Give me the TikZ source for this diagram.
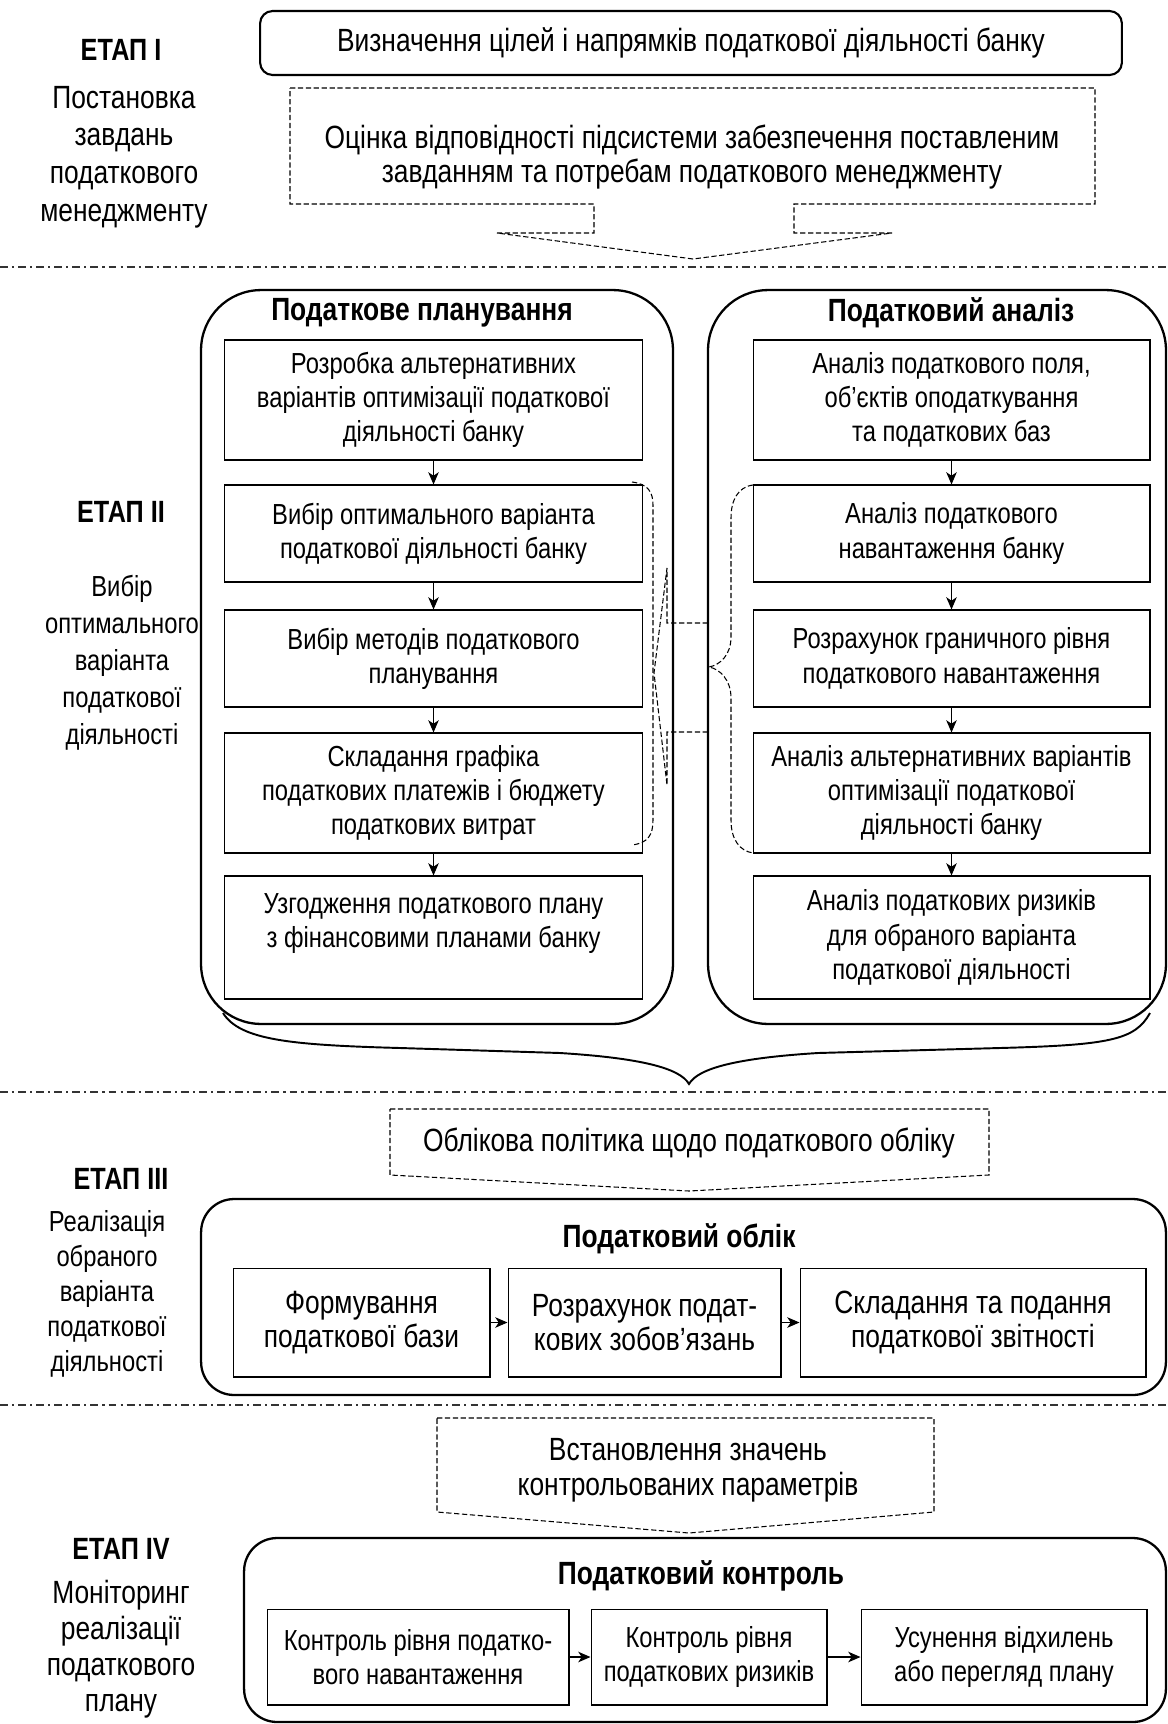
\documentclass[tikz,border=0pt]{standalone}
\usepackage{fontspec}
\setmainfont{Liberation Sans}[FakeStretch=0.82]
\usetikzlibrary{arrows.meta}

\begin{document}
\begin{tikzpicture}[x=0.02cm, y=-0.02cm,
        txt/.style={font=\fontsize{16.5}{19.5}\selectfont},
        bigtxt/.style={font=\fontsize{18.3}{19.8}\selectfont},
        stepbox/.style={txt, draw, line width=0.6pt, align=center, inner sep=2pt},
        bigstepbox/.style={bigtxt, draw, line width=0.6pt, align=center, inner sep=2pt},
        panel/.style={draw, line width=1.3pt, rounded corners=1.2cm},
        smallpanel/.style={draw, line width=1.3pt, rounded corners=0.66cm},
        etap/.style={font=\bfseries\fontsize{17.5}{20}\selectfont},
        desc/.style={align=center, font=\fontsize{16.5}{21}\selectfont},
        bigdesc/.style={align=center, font=\fontsize{18.3}{21.5}\selectfont},
        heading/.style={font=\bfseries\fontsize{18.3}{20}\selectfont},
        hint/.style={line width=0.6pt, dash pattern=on 3pt off 1.5pt},
        sep/.style={line width=0.6pt, black!80, dash pattern=on 4.5pt off 2.3pt on 1.2pt off 2.3pt},
        flow/.style={-{Stealth[length=7pt,width=6pt,inset=2pt]}, line width=0.6pt}]
        \useasboundingbox (0,0) rectangle (1167,1724);

        % etap I
        \node[etap] (e1) at (121,50) {ЕТАП I};
        \node[bigdesc] (d1) at (124,157) {Постановка\\завдань\\податкового\\менеджменту};
        \node[bigtxt, draw, line width=1.2pt, rounded corners=0.25cm, minimum width=17.24cm, minimum height=1.28cm] (goal) at (691,43) {Визначення цілей і напрямків податкової діяльності банку};
        \node[bigtxt, align=center] (assess) at (692,157) {Оцінка відповідності підсистеми забезпечення поставленим\\завданням та потребам податкового менеджменту};
        \draw[hint] (290,88) -- (1095,88) -- (1095,204) -- (794,204) -- (794,233) -- (892,233) -- (693,259)
                -- (497,233) -- (594,233) -- (594,204) -- (290,204) -- cycle;

        \draw[sep] (0,267) -- (1167,267);

        % etap II
        \node[etap] (e2) at (121,512) {ЕТАП II};
        \node[desc] (d2) at (122,663) {Вибір\\оптимального\\варіанта\\податкової\\діяльності};

        \node[panel, minimum width=9.44cm, minimum height=14.68cm] (plan) at (437,657) {};
        \node[panel, minimum width=9.16cm, minimum height=14.68cm] (anal) at (937,657) {};
        \node[heading] at (422,313) {Податкове планування};
        \node[heading] at (951,313) {Податковий аналіз};

        \node[stepbox, minimum width=8.38cm, minimum height=2.4cm] (p1) at (433.5,400) {Розробка альтернативних\\варіантів оптимізації податкової\\діяльності банку};
        \node[stepbox, minimum width=8.38cm, minimum height=1.94cm] (p2) at (433.5,533.5) {Вибір оптимального варіанта\\податкової діяльності банку};
        \node[stepbox, minimum width=8.38cm, minimum height=1.94cm] (p3) at (433.5,658.5) {Вибір методів податкового\\планування};
        \node[stepbox, minimum width=8.38cm, minimum height=2.4cm] (p4) at (433.5,793) {Складання графіка\\податкових платежів і бюджету\\податкових витрат};
        \node[stepbox, minimum width=8.38cm, minimum height=2.46cm] (p5) at (433.5,937.5) {Узгодження податкового плану\\з фінансовими планами банку\\ \mbox{}};

        \node[stepbox, minimum width=7.94cm, minimum height=2.4cm] (a1) at (951.5,400) {Аналіз податкового поля,\\об’єктів оподаткування\\та податкових баз};
        \node[stepbox, minimum width=7.94cm, minimum height=1.94cm] (a2) at (951.5,533.5) {Аналіз податкового\\навантаження банку};
        \node[stepbox, minimum width=7.94cm, minimum height=1.94cm] (a3) at (951.5,658.5) {Розрахунок граничного рівня\\податкового навантаження};
        \node[stepbox, minimum width=7.94cm, minimum height=2.4cm] (a4) at (951.5,793) {Аналіз альтернативних варіантів\\оптимізації податкової\\діяльності банку};
        \node[stepbox, minimum width=7.94cm, minimum height=2.46cm] (a5) at (951.5,937.5) {Аналіз податкових ризиків\\для обраного варіанта\\податкової діяльності};

        \draw[flow] (p1) -- (p2);
        \draw[flow] (p2) -- (p3);
        \draw[flow] (p3) -- (p4);
        \draw[flow] (p4) -- (p5);
        \draw[flow] (a1) -- (a2);
        \draw[flow] (a2) -- (a3);
        \draw[flow] (a3) -- (a4);
        \draw[flow] (a4) -- (a5);

        % braces between the two panels
        \draw[hint] (632,482) .. controls (648,484) and (653,492) .. (653,505) -- (653,820)
                .. controls (653,835) and (648,843) .. (632,845);
        \draw[hint] (753,485) .. controls (738,487) and (731,500) .. (731,518) -- (731,637)
                .. controls (731,655) and (720,665) .. (709,667) .. controls (720,669) and (731,680) .. (731,698)
                -- (731,820) .. controls (731,840) and (740,851) .. (753,853);
        \draw[hint] (708,623) -- (667,623) -- (667,568) -- (654,673) -- (667,785) -- (667,732) -- (708,732);

        % big brace
        \draw[line width=1.1pt] (223,1013) .. controls (240,1040) and (290,1045) .. (400,1048) -- (560,1053)
                .. controls (640,1058) and (680,1068) .. (689,1084) .. controls (698,1068) and (738,1058) .. (818,1053)
                -- (1000,1048) .. controls (1110,1045) and (1135,1040) .. (1150,1013);

        \draw[sep] (0,1092) -- (1167,1092);

        % etap III
        \node[etap] (e3) at (121,1179) {ЕТАП III};
        \node[desc, font=\fontsize{16.5}{20}\selectfont] (d3) at (107,1294) {Реалізація\\обраного\\варіанта\\податкової\\діяльності};
        \node[bigtxt] (policy) at (689,1143) {Облікова політика щодо податкового обліку};
        \draw[hint] (390,1109) -- (989,1109) -- (989,1175) -- (689,1191) -- (390,1175) -- cycle;

        \node[smallpanel, minimum width=19.3cm, minimum height=3.92cm] (acc) at (683.5,1297) {};
        \node[heading] at (679,1239) {Податковий облік};
        \node[bigstepbox, minimum width=5.14cm, minimum height=2.18cm] (f1) at (361.5,1322.5) {Формування\\податкової бази};
        \node[bigstepbox, minimum width=5.46cm, minimum height=2.18cm] (f2) at (644.5,1322.5) {Розрахунок подат-\\кових зобов’язань};
        \node[bigstepbox, minimum width=6.92cm, minimum height=2.18cm] (f3) at (973,1322.5) {Складання та подання\\податкової звітності};
        \draw[flow] (f1) -- (f2);
        \draw[flow] (f2) -- (f3);

        \draw[sep] (0,1405) -- (1167,1405);

        % etap IV
        \node[etap] (e4) at (121,1549) {ЕТАП IV};
        \node[bigdesc, font=\fontsize{18.3}{20.4}\selectfont] (d4) at (121,1649) {Моніторинг\\реалізації\\податкового\\плану};
        \node[bigtxt, align=center] (params) at (688,1470) {Встановлення значень\\контрольованих параметрів};
        \draw[hint] (437,1418) -- (934,1418) -- (934,1512) -- (689,1533) -- (437,1512) -- cycle;

        \node[smallpanel, minimum width=18.44cm, minimum height=3.68cm] (ctrl) at (705,1630) {};
        \node[heading] at (701,1576) {Податковий контроль};
        \node[stepbox, minimum width=6.04cm, minimum height=1.92cm] (k1) at (418,1657) {Контроль рівня податко-\\вого навантаження};
        \node[stepbox, minimum width=4.72cm, minimum height=1.92cm] (k2) at (709,1657) {Контроль рівня\\податкових ризиків};
        \node[stepbox, minimum width=5.72cm, minimum height=1.92cm] (k3) at (1004,1657) {Усунення відхилень\\або перегляд плану};
        \draw[flow] (k1) -- (k2);
        \draw[flow] (k2) -- (k3);
\end{tikzpicture}
\end{document}
